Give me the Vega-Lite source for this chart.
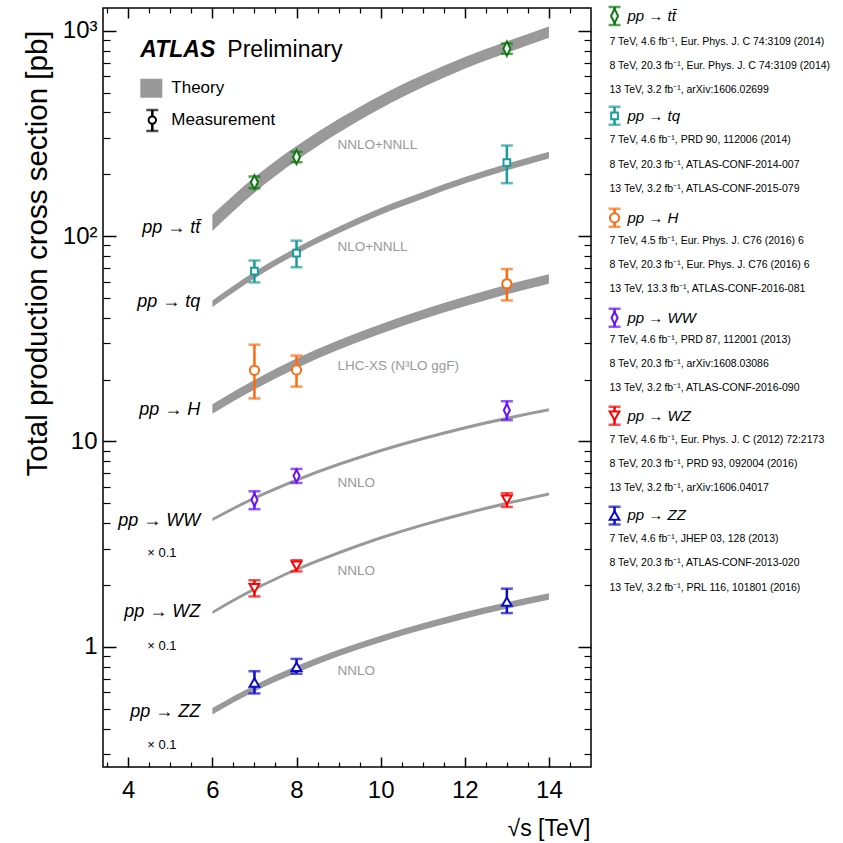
{
  "$schema": "https://vega.github.io/schema/vega-lite/v6.json",
  "width": 488,
  "height": 759,
  "autosize": {"type": "none"},
  "padding": {"left": 103, "top": 8, "right": 252, "bottom": 76},
  "background": "white",
  "config": {
    "view": {"stroke": "black", "strokeWidth": 1.5},
    "font": "Liberation Sans",
    "text": {"font": "Liberation Sans"},
    "axis": {"labelFont": "Liberation Sans", "titleFont": "Liberation Sans", "labelColor": "black", "titleColor": "black", "tickColor": "black", "grid": false, "domain": false}
  },
  "datasets": {
    "theory": [
      {"p":"tt","s":6,"lo":105.9,"hi":127.0},{"p":"tt","s":7,"lo":162.7,"hi":193.3},{"p":"tt","s":8,"lo":233.1,"hi":274.4},{"p":"tt","s":9,"lo":318.5,"hi":371.5},{"p":"tt","s":10,"lo":418.2,"hi":484.2},{"p":"tt","s":11,"lo":529.9,"hi":608.9},{"p":"tt","s":12,"lo":652.0,"hi":745.1},{"p":"tt","s":13,"lo":780.3,"hi":886.7},{"p":"tt","s":14,"lo":925.3,"hi":1047.5},
      {"p":"tq","s":6,"lo":45.1,"hi":48.6},{"p":"tq","s":7,"lo":62.2,"hi":67.1},{"p":"tq","s":8,"lo":81.6,"hi":87.9},{"p":"tq","s":9,"lo":103.1,"hi":111.1},{"p":"tq","s":10,"lo":127.1,"hi":137.0},{"p":"tq","s":11,"lo":152.2,"hi":164.0},{"p":"tq","s":12,"lo":180.1,"hi":194.1},{"p":"tq","s":13,"lo":209.0,"hi":225.3},{"p":"tq","s":14,"lo":238.9,"hi":257.4},
      {"p":"H","s":6,"lo":13.65,"hi":15.19},{"p":"H","s":7,"lo":17.91,"hi":19.94},{"p":"H","s":8,"lo":22.75,"hi":25.32},{"p":"H","s":9,"lo":27.96,"hi":31.12},{"p":"H","s":10,"lo":33.46,"hi":37.24},{"p":"H","s":11,"lo":39.34,"hi":43.78},{"p":"H","s":12,"lo":45.5,"hi":50.64},{"p":"H","s":13,"lo":52.13,"hi":58.03},{"p":"H","s":14,"lo":58.58,"hi":65.2},
      {"p":"WW","s":6,"lo":4.096,"hi":4.245},{"p":"WW","s":7,"lo":5.206,"hi":5.395},{"p":"WW","s":8,"lo":6.375,"hi":6.607},{"p":"WW","s":9,"lo":7.593,"hi":7.869},{"p":"WW","s":10,"lo":8.861,"hi":9.182},{"p":"WW","s":11,"lo":10.147,"hi":10.516},{"p":"WW","s":12,"lo":11.444,"hi":11.86},{"p":"WW","s":13,"lo":12.731,"hi":13.193},{"p":"WW","s":14,"lo":14.018,"hi":14.527},
      {"p":"WZ","s":6,"lo":1.444,"hi":1.496},{"p":"WZ","s":7,"lo":1.876,"hi":1.944},{"p":"WZ","s":8,"lo":2.338,"hi":2.423},{"p":"WZ","s":9,"lo":2.819,"hi":2.922},{"p":"WZ","s":10,"lo":3.33,"hi":3.451},{"p":"WZ","s":11,"lo":3.851,"hi":3.991},{"p":"WZ","s":12,"lo":4.371,"hi":4.53},{"p":"WZ","s":13,"lo":4.912,"hi":5.09},{"p":"WZ","s":14,"lo":5.452,"hi":5.65},
      {"p":"ZZ","s":6,"lo":0.469,"hi":0.504},{"p":"ZZ","s":7,"lo":0.606,"hi":0.651},{"p":"ZZ","s":8,"lo":0.749,"hi":0.806},{"p":"ZZ","s":9,"lo":0.9,"hi":0.968},{"p":"ZZ","s":10,"lo":1.054,"hi":1.133},{"p":"ZZ","s":11,"lo":1.211,"hi":1.302},{"p":"ZZ","s":12,"lo":1.372,"hi":1.476},{"p":"ZZ","s":13,"lo":1.533,"hi":1.649},{"p":"ZZ","s":14,"lo":1.697,"hi":1.825}
    ],
    "meas": [
      {"p":"tt","s":7,"v":182.9,"lo":171,"hi":195},{"p":"tt","s":8,"v":242.9,"lo":229,"hi":257},{"p":"tt","s":13,"v":818,"lo":772,"hi":866},
      {"p":"tq","s":7,"v":67.5,"lo":59.5,"hi":76},{"p":"tq","s":8,"v":82.6,"lo":70.5,"hi":95},{"p":"tq","s":13,"v":228,"lo":181,"hi":276},
      {"p":"H","s":7,"v":22.2,"lo":16.2,"hi":29.6},{"p":"H","s":8,"v":22.3,"lo":18.5,"hi":26.2},{"p":"H","s":13,"v":58.6,"lo":48.6,"hi":69.1},
      {"p":"WW","s":7,"v":5.2,"lo":4.68,"hi":5.72},{"p":"WW","s":8,"v":6.8,"lo":6.28,"hi":7.35},{"p":"WW","s":13,"v":14.2,"lo":12.7,"hi":15.7},
      {"p":"WZ","s":7,"v":1.93,"lo":1.76,"hi":2.11},{"p":"WZ","s":8,"v":2.48,"lo":2.33,"hi":2.64},{"p":"WZ","s":13,"v":5.2,"lo":4.8,"hi":5.6},
      {"p":"ZZ","s":7,"v":0.67,"lo":0.593,"hi":0.761},{"p":"ZZ","s":8,"v":0.8,"lo":0.74,"hi":0.874},{"p":"ZZ","s":13,"v":1.66,"lo":1.46,"hi":1.92},
      {"p":"tt","s":15.56,"v":1180,"lo":1067,"hi":1306},
      {"p":"tq","s":15.56,"v":385,"lo":348,"hi":426},
      {"p":"H","s":15.56,"v":122.7,"lo":111,"hi":135.8},
      {"p":"WW","s":15.56,"v":40,"lo":36.2,"hi":44.3},
      {"p":"WZ","s":15.56,"v":13.35,"lo":12.07,"hi":14.77},
      {"p":"ZZ","s":15.56,"v":4.364,"lo":3.937,"hi":4.816},
      {"p":"M","s":4.572,"v":367,"lo":325,"hi":411}
    ],
    "one": [{"s": 10, "v": 10}]
  },
  "resolve": {"axis": {"x": "independent", "y": "independent"}},
  "layer": [
    {
      "data": {"name": "theory"},
      "mark": {"type": "area", "color": "#999999", "interpolate": "monotone"},
      "encoding": {
        "x": {"field": "s", "type": "quantitative", "scale": {"domain": [3.4, 15], "nice": false, "zero": false},
              "axis": {"orient": "bottom", "values": [4,6,8,10,12,14], "tickSize": -10, "tickWidth": 1.5, "labelFontSize": 24, "labelPadding": 21, "labelFlush": false, "labelOverlap": false,
                       "title": "√s  [TeV]", "titleFontSize": 23, "titleFontWeight": "normal", "titleAlign": "right", "titleAnchor": "end", "titleBaseline": "middle", "titleX": 487, "titleY": 61}},
        "y": {"field": "lo", "type": "quantitative", "scale": {"type": "log", "domain": [0.26, 1290], "nice": false},
              "axis": {"orient": "left", "values": [1,10,100,1000], "tickSize": -13, "tickWidth": 1.5, "labelFontSize": 24, "labelPadding": 19, "labelOverlap": false, "labelFlush": false,
                       "labelExpr": "datum.value == 1000 ? '10³' : datum.value == 100 ? '10²' : datum.value == 10 ? '10' : '1'",
                       "title": "Total production cross section [pb]", "titleFontSize": 29.5, "titleFontWeight": "normal", "titleAngle": -90, "titleAlign": "right", "titleBaseline": "middle", "titleX": -66, "titleY": 22}},
        "y2": {"field": "hi"},
        "detail": {"field": "p"}
      }
    },
    {
      "data": {"name": "one"},
      "mark": {"type": "point", "opacity": 0},
      "encoding": {
        "x": {"field": "s", "type": "quantitative", "scale": {"domain": [3.4, 15], "nice": false, "zero": false},
              "axis": {"orient": "bottom", "values": [3.5,4.5,5,5.5,6.5,7,7.5,8.5,9,9.5,10.5,11,11.5,12.5,13,13.5,14.5], "tickSize": -5, "tickWidth": 1.2, "labels": false, "title": null}},
        "y": {"field": "v", "type": "quantitative", "scale": {"type": "log", "domain": [0.26, 1290], "nice": false}, "axis": null}
      }
    },
    {
      "data": {"name": "one"},
      "mark": {"type": "point", "opacity": 0},
      "encoding": {
        "x": {"field": "s", "type": "quantitative", "scale": {"domain": [3.4, 15], "nice": false, "zero": false},
              "axis": {"orient": "top", "values": [4,6,8,10,12,14], "tickSize": -10, "tickWidth": 1.5, "labels": false, "title": null}},
        "y": {"field": "v", "type": "quantitative", "scale": {"type": "log", "domain": [0.26, 1290], "nice": false}, "axis": null}
      }
    },
    {
      "data": {"name": "one"},
      "mark": {"type": "point", "opacity": 0},
      "encoding": {
        "x": {"field": "s", "type": "quantitative", "scale": {"domain": [3.4, 15], "nice": false, "zero": false},
              "axis": {"orient": "top", "values": [3.5,4.5,5,5.5,6.5,7,7.5,8.5,9,9.5,10.5,11,11.5,12.5,13,13.5,14.5], "tickSize": -5, "tickWidth": 1.2, "labels": false, "title": null}},
        "y": {"field": "v", "type": "quantitative", "scale": {"type": "log", "domain": [0.26, 1290], "nice": false}, "axis": null}
      }
    },
    {
      "data": {"name": "one"},
      "mark": {"type": "point", "opacity": 0},
      "encoding": {
        "x": {"field": "s", "type": "quantitative", "scale": {"domain": [3.4, 15], "nice": false, "zero": false}, "axis": null},
        "y": {"field": "v", "type": "quantitative", "scale": {"type": "log", "domain": [0.26, 1290], "nice": false},
              "axis": {"orient": "left", "values": [0.3,0.4,0.5,0.6,0.7,0.8,0.9,2,3,4,5,6,7,8,9,20,30,40,50,60,70,80,90,200,300,400,500,600,700,800,900], "tickSize": -7, "tickWidth": 1.2, "labels": false, "title": null}}
      }
    },
    {
      "data": {"name": "one"},
      "mark": {"type": "point", "opacity": 0},
      "encoding": {
        "x": {"field": "s", "type": "quantitative", "scale": {"domain": [3.4, 15], "nice": false, "zero": false}, "axis": null},
        "y": {"field": "v", "type": "quantitative", "scale": {"type": "log", "domain": [0.26, 1290], "nice": false},
              "axis": {"orient": "right", "values": [1,10,100,1000], "tickSize": -13, "tickWidth": 1.5, "labels": false, "title": null}}
      }
    },
    {
      "data": {"name": "one"},
      "mark": {"type": "point", "opacity": 0},
      "encoding": {
        "x": {"field": "s", "type": "quantitative", "scale": {"domain": [3.4, 15], "nice": false, "zero": false}, "axis": null},
        "y": {"field": "v", "type": "quantitative", "scale": {"type": "log", "domain": [0.26, 1290], "nice": false},
              "axis": {"orient": "right", "values": [0.3,0.4,0.5,0.6,0.7,0.8,0.9,2,3,4,5,6,7,8,9,20,30,40,50,60,70,80,90,200,300,400,500,600,700,800,900], "tickSize": -7, "tickWidth": 1.2, "labels": false, "title": null}}
      }
    },
    {
      "data": {"name": "meas"},
      "mark": {"type": "rule", "strokeWidth": 2.5},
      "encoding": {
        "x": {"field": "s", "type": "quantitative", "scale": {"domain": [3.4, 15], "nice": false, "zero": false}, "axis": null},
        "y": {"field": "lo", "type": "quantitative", "scale": {"type": "log", "domain": [0.26, 1290], "nice": false}, "axis": null},
        "y2": {"field": "hi"},
        "color": {"field": "p", "type": "nominal", "legend": null, "scale": {"domain": ["tt","tq","H","WW","WZ","ZZ","M"], "range": ["#0d7a0d","#1a9c9c","#ff6a10","#6a10ff","#ff0000","#0a0acc","#000000"]}}
      }
    },
    {
      "data": {"name": "meas"},
      "mark": {"type": "tick", "orient": "horizontal", "thickness": 2.5, "size": 12},
      "encoding": {
        "x": {"field": "s", "type": "quantitative", "scale": {"domain": [3.4, 15], "nice": false, "zero": false}, "axis": null},
        "y": {"field": "lo", "type": "quantitative", "scale": {"type": "log", "domain": [0.26, 1290], "nice": false}, "axis": null},
        "color": {"field": "p", "type": "nominal", "legend": null, "scale": {"domain": ["tt","tq","H","WW","WZ","ZZ","M"], "range": ["#0d7a0d","#1a9c9c","#ff6a10","#6a10ff","#ff0000","#0a0acc","#000000"]}}
      }
    },
    {
      "data": {"name": "meas"},
      "mark": {"type": "tick", "orient": "horizontal", "thickness": 2.5, "size": 12},
      "encoding": {
        "x": {"field": "s", "type": "quantitative", "scale": {"domain": [3.4, 15], "nice": false, "zero": false}, "axis": null},
        "y": {"field": "hi", "type": "quantitative", "scale": {"type": "log", "domain": [0.26, 1290], "nice": false}, "axis": null},
        "color": {"field": "p", "type": "nominal", "legend": null, "scale": {"domain": ["tt","tq","H","WW","WZ","ZZ","M"], "range": ["#0d7a0d","#1a9c9c","#ff6a10","#6a10ff","#ff0000","#0a0acc","#000000"]}}
      }
    },
    {
      "data": {"name": "meas"},
      "mark": {"type": "point", "filled": false, "fill": "white", "fillOpacity": 1, "strokeWidth": 2, "opacity": 1},
      "encoding": {
        "x": {"field": "s", "type": "quantitative", "scale": {"domain": [3.4, 15], "nice": false, "zero": false}, "axis": null},
        "y": {"field": "v", "type": "quantitative", "scale": {"type": "log", "domain": [0.26, 1290], "nice": false}, "axis": null},
        "color": {"field": "p", "type": "nominal", "legend": null, "scale": {"domain": ["tt","tq","H","WW","WZ","ZZ","M"], "range": ["#0d7a0d","#1a9c9c","#ff6a10","#6a10ff","#ff0000","#0a0acc","#000000"]}},
        "shape": {"field": "p", "type": "nominal", "legend": null, "scale": {"domain": ["tt","tq","H","WW","WZ","ZZ","M"], "range": ["M0,-1L0.5,0L0,1L-0.5,0Z","square","circle","M0,-1L0.5,0L0,1L-0.5,0Z","triangle-down","triangle-up","circle"]}},
        "size": {"field": "p", "type": "nominal", "legend": null, "scale": {"type": "ordinal", "domain": ["tt","tq","H","WW","WZ","ZZ","M"], "range": [200, 45, 85, 150, 95, 95, 55]}}
      }
    },
    {
      "data": {"values": [{"x": 4.287, "x2": 4.81, "y": 583, "y2": 471}]},
      "mark": {"type": "rect", "color": "#999999"},
      "encoding": {
        "x": {"field": "x", "type": "quantitative", "scale": {"domain": [3.4, 15], "nice": false, "zero": false}, "axis": null},
        "x2": {"field": "x2"},
        "y": {"field": "y", "type": "quantitative", "scale": {"type": "log", "domain": [0.26, 1290], "nice": false}, "axis": null},
        "y2": {"field": "y2"}
      }
    },
    {
      "data": {"values": [{"t": "ATLAS", "x": 4.287, "y": 807}]},
      "mark": {"type": "text", "font": "Liberation Sans", "fontSize": 23, "fontWeight": "bold", "fontStyle": "italic", "align": "left", "baseline": "middle", "color": "black"},
      "encoding": {
        "x": {"field": "x", "type": "quantitative", "scale": {"domain": [3.4, 15], "nice": false, "zero": false}, "axis": null},
        "y": {"field": "y", "type": "quantitative", "scale": {"type": "log", "domain": [0.26, 1290], "nice": false}, "axis": null},
        "text": {"field": "t"}
      }
    },
    {
      "data": {"values": [{"t": "Preliminary", "x": 6.356, "y": 807}]},
      "mark": {"type": "text", "fontSize": 23, "align": "left", "baseline": "middle", "color": "black"},
      "encoding": {
        "x": {"field": "x", "type": "quantitative", "scale": {"domain": [3.4, 15], "nice": false, "zero": false}, "axis": null},
        "y": {"field": "y", "type": "quantitative", "scale": {"type": "log", "domain": [0.26, 1290], "nice": false}, "axis": null},
        "text": {"field": "t"}
      }
    },
    {
      "data": {"values": [{"t": "Theory", "x": 5.024, "y": 527}, {"t": "Measurement", "x": 5.024, "y": 367}]},
      "mark": {"type": "text", "fontSize": 17, "align": "left", "baseline": "middle", "color": "black"},
      "encoding": {
        "x": {"field": "x", "type": "quantitative", "scale": {"domain": [3.4, 15], "nice": false, "zero": false}, "axis": null},
        "y": {"field": "y", "type": "quantitative", "scale": {"type": "log", "domain": [0.26, 1290], "nice": false}, "axis": null},
        "text": {"field": "t"}
      }
    },
    {
      "data": {"values": [
        {"t": "pp → tt̄", "x": 5.714, "y": 109.7},
        {"t": "pp → tq", "x": 5.714, "y": 47.9},
        {"t": "pp → H", "x": 5.714, "y": 14.28},
        {"t": "pp → WW", "x": 5.714, "y": 4.118},
        {"t": "pp → WZ", "x": 5.714, "y": 1.485},
        {"t": "pp → ZZ", "x": 5.714, "y": 0.4844}
      ]},
      "mark": {"type": "text", "fontSize": 18, "fontStyle": "italic", "align": "right", "baseline": "middle", "color": "black"},
      "encoding": {
        "x": {"field": "x", "type": "quantitative", "scale": {"domain": [3.4, 15], "nice": false, "zero": false}, "axis": null},
        "y": {"field": "y", "type": "quantitative", "scale": {"type": "log", "domain": [0.26, 1290], "nice": false}, "axis": null},
        "text": {"field": "t"}
      }
    },
    {
      "data": {"values": [
        {"t": "× 0.1", "x": 4.453, "y": 2.876},
        {"t": "× 0.1", "x": 4.453, "y": 1.015},
        {"t": "× 0.1", "x": 4.453, "y": 0.331}
      ]},
      "mark": {"type": "text", "fontSize": 13, "align": "left", "baseline": "middle", "color": "black"},
      "encoding": {
        "x": {"field": "x", "type": "quantitative", "scale": {"domain": [3.4, 15], "nice": false, "zero": false}, "axis": null},
        "y": {"field": "y", "type": "quantitative", "scale": {"type": "log", "domain": [0.26, 1290], "nice": false}, "axis": null},
        "text": {"field": "t"}
      }
    },
    {
      "data": {"values": [
        {"t": "NNLO+NNLL", "x": 8.972, "y": 278},
        {"t": "NLO+NNLL", "x": 8.972, "y": 88.8},
        {"t": "LHC-XS (N³LO ggF)", "x": 8.972, "y": 23.4},
        {"t": "NNLO", "x": 8.972, "y": 6.3},
        {"t": "NNLO", "x": 8.972, "y": 2.351},
        {"t": "NNLO", "x": 8.972, "y": 0.7621}
      ]},
      "mark": {"type": "text", "fontSize": 13.5, "align": "left", "baseline": "middle", "color": "#999999"},
      "encoding": {
        "x": {"field": "x", "type": "quantitative", "scale": {"domain": [3.4, 15], "nice": false, "zero": false}, "axis": null},
        "y": {"field": "y", "type": "quantitative", "scale": {"type": "log", "domain": [0.26, 1290], "nice": false}, "axis": null},
        "text": {"field": "t"}
      }
    },
    {
      "data": {"values": [
        {"t": "pp → tt̄", "x": 15.868, "y": 1180},
        {"t": "pp → tq", "x": 15.868, "y": 385},
        {"t": "pp → H", "x": 15.868, "y": 122.7},
        {"t": "pp → WW", "x": 15.868, "y": 40},
        {"t": "pp → WZ", "x": 15.868, "y": 13.35},
        {"t": "pp → ZZ", "x": 15.868, "y": 4.364}
      ]},
      "mark": {"type": "text", "fontSize": 15, "fontStyle": "italic", "align": "left", "baseline": "middle", "color": "black"},
      "encoding": {
        "x": {"field": "x", "type": "quantitative", "scale": {"domain": [3.4, 15], "nice": false, "zero": false}, "axis": null},
        "y": {"field": "y", "type": "quantitative", "scale": {"type": "log", "domain": [0.26, 1290], "nice": false}, "axis": null},
        "text": {"field": "t"}
      }
    },
    {
      "data": {"values": [
        {"t": "7 TeV, 4.6 fb⁻¹, Eur. Phys. J. C 74:3109 (2014)", "x": 15.44, "y": 882},
        {"t": "8 TeV, 20.3 fb⁻¹, Eur. Phys. J. C 74:3109 (2014)", "x": 15.44, "y": 674},
        {"t": "13 TeV, 3.2 fb⁻¹, arXiv:1606.02699", "x": 15.44, "y": 515},
        {"t": "7 TeV, 4.6 fb⁻¹, PRD 90, 112006 (2014)", "x": 15.44, "y": 294},
        {"t": "8 TeV, 20.3 fb⁻¹, ATLAS-CONF-2014-007", "x": 15.44, "y": 222.3},
        {"t": "13 TeV, 3.2 fb⁻¹, ATLAS-CONF-2015-079", "x": 15.44, "y": 169.9},
        {"t": "7 TeV, 4.5 fb⁻¹, Eur. Phys. J. C76 (2016) 6", "x": 15.44, "y": 94.9},
        {"t": "8 TeV, 20.3 fb⁻¹, Eur. Phys. J. C76 (2016) 6", "x": 15.44, "y": 72.5},
        {"t": "13 TeV, 13.3 fb⁻¹, ATLAS-CONF-2016-081", "x": 15.44, "y": 55.4},
        {"t": "7 TeV, 4.6 fb⁻¹, PRD 87, 112001 (2013)", "x": 15.44, "y": 31.3},
        {"t": "8 TeV, 20.3 fb⁻¹, arXiv:1608.03086", "x": 15.44, "y": 23.9},
        {"t": "13 TeV, 3.2 fb⁻¹, ATLAS-CONF-2016-090", "x": 15.44, "y": 18.27},
        {"t": "7 TeV, 4.6 fb⁻¹, Eur. Phys. J. C (2012) 72:2173", "x": 15.44, "y": 10.22},
        {"t": "8 TeV, 20.3 fb⁻¹, PRD 93, 092004 (2016)", "x": 15.44, "y": 7.81},
        {"t": "13 TeV, 3.2 fb⁻¹, arXiv:1606.04017", "x": 15.44, "y": 5.905},
        {"t": "7 TeV, 4.6 fb⁻¹, JHEP 03, 128 (2013)", "x": 15.44, "y": 3.336},
        {"t": "8 TeV, 20.3 fb⁻¹, ATLAS-CONF-2013-020", "x": 15.44, "y": 2.549},
        {"t": "13 TeV, 3.2 fb⁻¹, PRL 116, 101801 (2016)", "x": 15.44, "y": 1.926}
      ]},
      "mark": {"type": "text", "fontSize": 10.5, "align": "left", "baseline": "middle", "color": "black"},
      "encoding": {
        "x": {"field": "x", "type": "quantitative", "scale": {"domain": [3.4, 15], "nice": false, "zero": false}, "axis": null},
        "y": {"field": "y", "type": "quantitative", "scale": {"type": "log", "domain": [0.26, 1290], "nice": false}, "axis": null},
        "text": {"field": "t"}
      }
    }
  ]
}
